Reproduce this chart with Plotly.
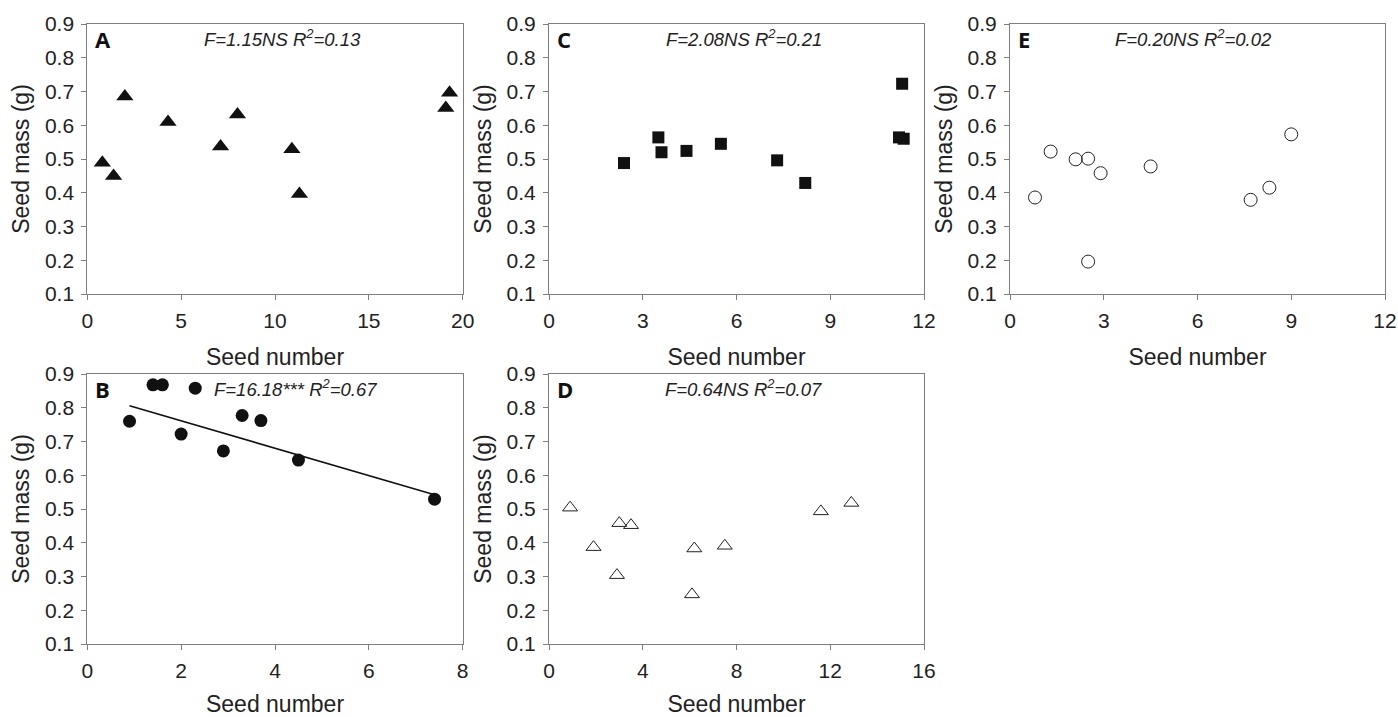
import plotly.graph_objects as go

# ---------------- data ----------------
a_x = [0.8, 1.4, 2.0, 4.3, 7.1, 8.0, 10.9, 11.3, 19.1, 19.3]
a_y = [0.489, 0.45, 0.685, 0.61, 0.537, 0.632, 0.529, 0.396, 0.651, 0.696]

b_x = [0.9, 1.4, 1.6, 2.3, 2.0, 2.9, 3.3, 3.7, 4.5, 7.4]
b_y = [0.76, 0.868, 0.868, 0.858, 0.722, 0.672, 0.777, 0.762, 0.645, 0.529]
b_fit_x = [0.9, 7.4]
b_fit_y = [0.806, 0.542]

c_x = [2.4, 3.5, 3.6, 4.4, 5.5, 7.3, 8.2, 11.2, 11.35, 11.3]
c_y = [0.488, 0.564, 0.52, 0.524, 0.545, 0.496, 0.429, 0.564, 0.56, 0.723]

d_x = [0.9, 1.9, 2.9, 3.0, 3.5, 6.1, 6.2, 7.5, 11.6, 12.9]
d_y = [0.504, 0.387, 0.304, 0.458, 0.452, 0.247, 0.383, 0.391, 0.493, 0.518]

e_x = [0.8, 1.3, 2.1, 2.5, 2.9, 2.5, 4.5, 7.7, 8.3, 9.0]
e_y = [0.386, 0.522, 0.499, 0.501, 0.458, 0.196, 0.478, 0.379, 0.415, 0.573]

panel_letters = ["A", "B", "C", "D", "E"]
stats_text = [
    "F=1.15NS R<sup>2</sup>=0.13",
    "F=16.18*** R<sup>2</sup>=0.67",
    "F=2.08NS R<sup>2</sup>=0.21",
    "F=0.64NS R<sup>2</sup>=0.07",
    "F=0.20NS R<sup>2</sup>=0.02",
]
x_ranges = [[0, 20], [0, 8], [0, 12], [0, 16], [0, 12]]
x_dticks = [5, 2, 3, 4, 3]
y_ticks = [0.1, 0.2, 0.3, 0.4, 0.5, 0.6, 0.7, 0.8, 0.9]
x_title = "Seed number"
y_title = "Seed mass (g)"

# ---------------- layout ----------------
W, H = 1398, 717
col_px = [(87.3, 462.7), (549, 924), (1010, 1385)]
row_px = [(24, 294), (374, 644)]


def fx(px):
    return px / W


def fy(py):
    return 1 - py / H


# panel index -> (col,row)
panel_pos = [(0, 0), (0, 1), (1, 0), (1, 1), (2, 0)]
stats_cx = [282, 295.5, 743.5, 743.5, 1193.5]

fig = go.Figure()

series = [
    (a_x, a_y, dict(symbol="triangle-up", size=15, color="#111111")),
    (b_x, b_y, dict(symbol="circle", size=13, color="#111111")),
    (c_x, c_y, dict(symbol="square", size=12, color="#111111")),
    (d_x, d_y, dict(symbol="triangle-up-open", size=13, color="#222222", line=dict(width=1))),
    (e_x, e_y, dict(symbol="circle-open", size=13, color="#222222", line=dict(width=1))),
]

font_family = "Liberation Sans, Arial, sans-serif"

for i, (xs, ys, mk) in enumerate(series):
    ax = "" if i == 0 else str(i + 1)
    c, r = panel_pos[i]
    x0, x1 = col_px[c]
    y0, y1 = row_px[r]
    xd = [fx(x0), fx(x1)]
    yd = [fy(y1), fy(y0)]
    fig.add_trace(go.Scatter(x=xs, y=ys, mode="markers", marker=mk,
                             xaxis="x" + ax, yaxis="y" + ax, showlegend=False))
    if i == 1:
        fig.add_trace(go.Scatter(x=b_fit_x, y=b_fit_y, mode="lines",
                                 line=dict(color="#111111", width=1.6),
                                 xaxis="x" + ax, yaxis="y" + ax, showlegend=False))
    common = dict(showgrid=False, zeroline=False, showline=True, linecolor="#7f7f7f",
                  linewidth=1, mirror=True, ticks="outside", ticklen=5, tickcolor="#7f7f7f",
                  automargin=False, ticklabelstandoff=3,
                  tickfont=dict(family=font_family, size=21, color="#222222"))
    fig.layout["xaxis" + ax] = dict(
        domain=xd, range=x_ranges[i], dtick=x_dticks[i], tick0=0, anchor="y" + ax,
        title=dict(text=x_title, font=dict(family=font_family, size=23, color="#222222"),
                   standoff=17 if r == 0 else 19),
        **common)
    fig.layout["yaxis" + ax] = dict(
        domain=yd, range=[0.1, 0.9], tickvals=y_ticks, tickformat=".1f", anchor="x" + ax,
        title=dict(text=y_title, font=dict(family=font_family, size=23, color="#222222"), standoff=8),
        **common)
    # panel letter
    fig.add_annotation(x=fx(x0 + 6), y=fy(y0 + 15), xref="paper", yref="paper",
                       text="<b>%s</b>" % panel_letters[i], showarrow=False,
                       xanchor="left", yanchor="middle",
                       font=dict(family="Open Sans, sans-serif", size=22, color="#111111"))
    # stats text
    fig.add_annotation(x=fx(stats_cx[i]), y=fy(y0 + 14), xref="paper", yref="paper",
                       text="<i>%s</i>" % stats_text[i], showarrow=False,
                       xanchor="center", yanchor="middle",
                       font=dict(family=font_family, size=18.5, color="#222222"))

fig.update_layout(width=W, height=H, margin=dict(l=0, r=0, t=0, b=0),
                  plot_bgcolor="white", paper_bgcolor="white")

fig.write_html("out.html", config={"displayModeBar": False},
               post_script="document.body.style.margin='0';document.body.style.overflow='hidden';")
